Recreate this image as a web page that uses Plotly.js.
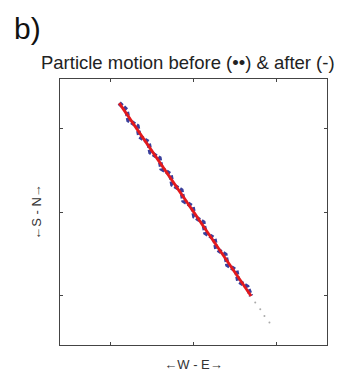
<!DOCTYPE html>
<html><head><meta charset="utf-8">
<script src="https://cdn.plot.ly/plotly-3.0.1.min.js"></script>
<style>html,body{margin:0;padding:0;background:#fff}#chart{width:351px;height:392px}</style>
</head><body><div id="chart"></div>
<script>
// "before" particle motion (dotted, blue)
const beforeX = [-0.89,-0.803,-0.779,-0.672,-0.648,-0.540,-0.516,-0.408,-0.384,-0.277,-0.253,-0.145,-0.121,-0.013,0.011,0.118,0.142,0.250,0.274,0.382,0.406,0.513,0.537,0.645,0.69];
const beforeY = [1.31,1.227,1.103,1.034,0.909,0.841,0.716,0.647,0.523,0.454,0.329,0.261,0.136,0.067,-0.057,-0.126,-0.251,-0.319,-0.444,-0.513,-0.637,-0.706,-0.831,-0.899,-1.01];
// faint tail of the "before" trace
const tailX = [0.74,0.80,0.85,0.91];
const tailY = [-1.09,-1.17,-1.25,-1.33];
// "after" particle motion (solid, red)
const afterX = [-0.89,-0.70,-0.50,-0.30,-0.10,0.00,0.10,0.20,0.30,0.45,0.60,0.69];
const afterY = [1.31,1.03,0.735,0.445,0.15,0.005,-0.14,-0.29,-0.43,-0.655,-0.875,-1.01];
const tickVals = [-1,0,1];

const axisCommon = {range:[-1.6,1.6], tickvals:tickVals, showticklabels:false, ticks:'inside', ticklen:3, tickcolor:'#444', showline:true, linecolor:'#444', linewidth:1, mirror:'ticks', showgrid:false, zeroline:false, fixedrange:true};

const traces = [
  {x:beforeX, y:beforeY, mode:'lines', line:{color:'#3a3f9c', width:4.5, dash:'4px,2px'}, hoverinfo:'skip'},
  {x:tailX, y:tailY, mode:'markers', marker:{color:'#aaaaaa', size:2}, hoverinfo:'skip'},
  {x:afterX, y:afterY, mode:'lines', line:{color:'#e3191c', width:2.8}, hoverinfo:'skip'}
];
const layout = {
  width:351, height:392, showlegend:false,
  paper_bgcolor:'#fff', plot_bgcolor:'#fff',
  margin:{l:60, r:24, t:79, b:47},
  font:{family:'Liberation Sans, Arial, sans-serif', color:'#222'},
  title:{text:'Particle motion before (••) & after (-)', font:{size:18.5, color:'#222'}, x:0.535, xanchor:'center', y:0.84, yanchor:'middle'},
  xaxis:Object.assign({}, axisCommon, {title:{text:'←W - E→', font:{size:13, color:'#333'}, standoff:14}}),
  yaxis:Object.assign({}, axisCommon, {title:{text:'←S - N→', font:{size:13, color:'#333'}, standoff:14}}),
  annotations:[{text:'b)', xref:'paper', yref:'paper', x:-0.18, y:1.19, xanchor:'left', yanchor:'middle', showarrow:false, font:{size:30, color:'#111'}}]
};
Plotly.newPlot('chart', traces, layout, {staticPlot:true});
</script></body></html>
